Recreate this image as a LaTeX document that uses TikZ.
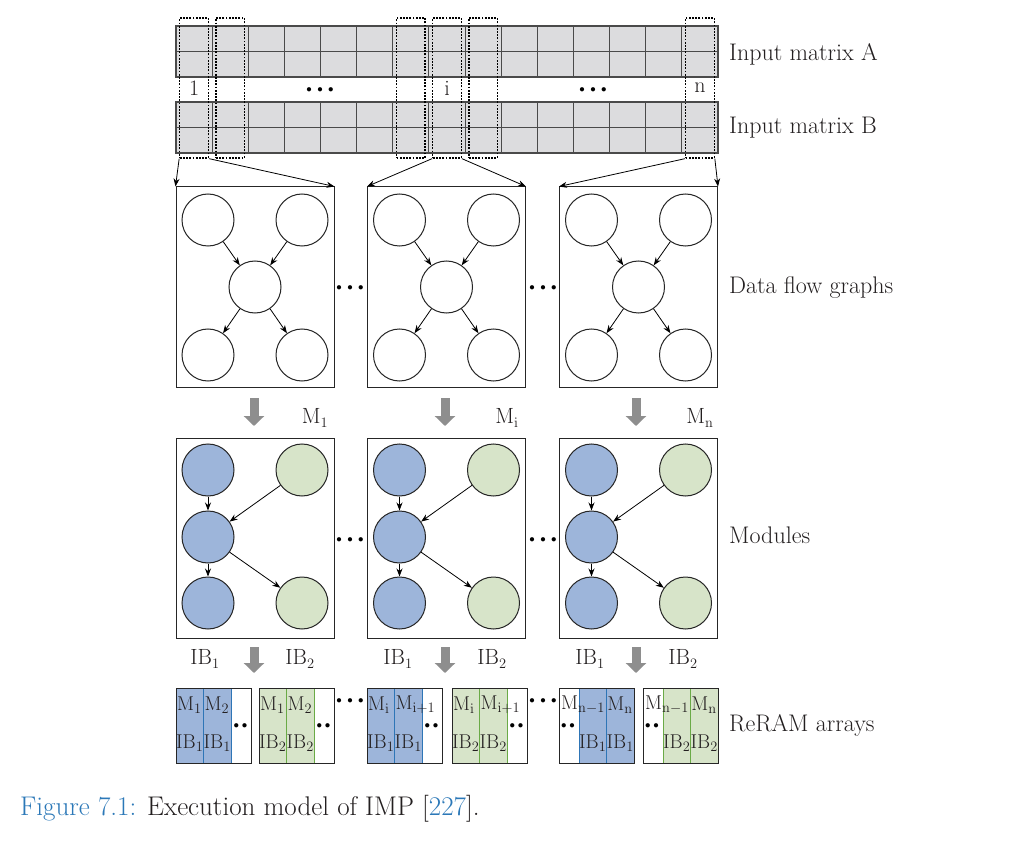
\documentclass[tikz,border=0pt]{standalone}
\usepackage{tikz}
\usetikzlibrary{positioning,arrows.meta}
\definecolor{cellgrey}{HTML}{DCDCDE}
\definecolor{cellline}{HTML}{4A4A4A}
\definecolor{inktext}{HTML}{231F20}
\definecolor{modblue}{HTML}{9DB5DA}
\definecolor{modbluedark}{HTML}{2E75B6}
\definecolor{modgreen}{HTML}{D7E4C9}
\definecolor{modgreendark}{HTML}{6AAA46}
\definecolor{shaftgrey}{HTML}{8E8E8E}
\definecolor{capblue}{HTML}{2B78B8}
\newcommand{\dotsbig}{\fontsize{11}{11}\selectfont$\bullet\kern3pt\bullet\kern3pt\bullet$}
\newcommand{\dotstwo}{\fontsize{11}{11}\selectfont$\bullet\kern3pt\bullet$}
\tikzset{
  lbl/.style      = {font=\fontsize{22}{26}\selectfont, inner sep=0pt, text=inktext},
  sidelbl/.style  = {font=\fontsize{24}{28}\selectfont, inner sep=0pt, text=inktext,
                     anchor=base west},
  select/.style   = {draw=black, line width=1.3pt, dash pattern=on 1.8pt off 1.4pt,
                     minimum width=28.5pt, minimum height=140pt, inner sep=0pt},
  graphbox/.style = {draw=black!85, line width=1pt, minimum width=158pt,
                     minimum height=200pt, inner sep=0pt},
  vertex/.style   = {circle, draw=black!85, line width=1pt, minimum size=52pt,
                     inner sep=0pt, fill=white},
  bluevertex/.style  = {vertex, fill=modblue},
  greenvertex/.style = {vertex, fill=modgreen},
  edge/.style     = {-{Stealth[length=8pt,width=6pt]}, line width=0.8pt},
  feed/.style     = {-{Stealth[length=8pt,width=6pt]}, line width=0.8pt},
  bigarrow/.style = {-{Triangle[length=10pt,width=20pt]}, line width=9pt, draw=shaftgrey},
  array/.style    = {draw=black!85, line width=1pt, minimum width=75pt,
                     minimum height=75pt, inner sep=0pt},
  cell/.style     = {font=\fontsize{20}{22}\selectfont, inner sep=0pt, text=inktext},
  dotrow/.style   = {inner sep=0pt},
}
\begin{document}
\begin{tikzpicture}[x=1pt,y=-1pt]
  \useasboundingbox[fill=white] (0,0) rectangle (1034,845);

  % input matrices A and B
  \foreach \top in {26,102}{
    \fill[cellgrey] (176,\top) rectangle (718,\top+51);
    \foreach \k in {1,...,14}
      \draw[cellline, line width=1.1pt] ({176+\k*36.133},\top) -- ++(0,51);
    \draw[cellline, line width=1.1pt] (176,\top+25.5) -- (718,\top+25.5);
    \draw[cellline, line width=1.1pt] (176,\top) rectangle (718,\top+51);
  }
  \node[sidelbl] (inA) at (729,61) {Input matrix A};
  \node[sidelbl] (inB) at (729,134) {Input matrix B};

  % selected columns
  \foreach \k in {1,2,7,8,9,15}
    \node[select] (sel\k) at ({176+(\k-0.5)*36.133},88) {};
  \node[lbl] (idx1) at (sel1.center) {1};
  \node[lbl] (idxi) at (sel8.center) {i};
  \node[lbl] (idxn) at (sel15.center) {n};
  \node[dotrow] (dotsAB1) at (320,90) {\dotsbig};
  \node[dotrow] (dotsAB2) at (593,90) {\dotsbig};

  % data flow graphs
  \foreach \g/\cx in {1/255,2/446.5,3/638.5}{
    \node[graphbox] (dfg\g) at (\cx,287) {};
    \node[vertex] (dfg\g-tl) at (\cx-47,220) {};
    \node[vertex] (dfg\g-tr) at (\cx+47,220) {};
    \node[vertex] (dfg\g-c)  at (\cx,287) {};
    \node[vertex] (dfg\g-bl) at (\cx-47,355) {};
    \node[vertex] (dfg\g-br) at (\cx+47,355) {};
    \draw[edge] (dfg\g-tl) -- (dfg\g-c);
    \draw[edge] (dfg\g-tr) -- (dfg\g-c);
    \draw[edge] (dfg\g-c) -- (dfg\g-bl);
    \draw[edge] (dfg\g-c) -- (dfg\g-br);
  }
  \node[dotrow] (dotsG1) at (350,288) {\dotsbig};
  \node[dotrow] (dotsG2) at (543,288) {\dotsbig};
  \node[sidelbl] (dfglbl) at (729,294) {Data flow graphs};

  \draw[feed] (sel1.south west)  -- (dfg1.north west);
  \draw[feed] (sel1.south east)  -- (dfg1.north east);
  \draw[feed] (sel8.south west)  -- (dfg2.north west);
  \draw[feed] (sel8.south east)  -- (dfg2.north east);
  \draw[feed] (sel15.south west) -- (dfg3.north west);
  \draw[feed] (sel15.south east) -- (dfg3.north east);

  % mapping to modules
  \foreach \g/\cx in {1/254,2/445,3/636}{
    \coordinate (mapfrom\g) at (\cx,398);
    \coordinate (mapto\g) at (\cx,426);
    \draw[bigarrow] (mapfrom\g) -- (mapto\g);
  }
  \node[lbl] (m1) at (315,418) {M$_1$};
  \node[lbl] (mi) at (507,418) {M$_{\mathrm{i}}$};
  \node[lbl] (mn) at (700,418) {M$_{\mathrm{n}}$};

  % modules
  \foreach \g/\cx in {1/255,2/446.5,3/638.5}{
    \node[graphbox] (mod\g) at (\cx,538) {};
    \node[bluevertex]  (mod\g-tl) at (\cx-47,470) {};
    \node[greenvertex] (mod\g-tr) at (\cx+47,470) {};
    \node[bluevertex]  (mod\g-c)  at (\cx-47,537) {};
    \node[bluevertex]  (mod\g-bl) at (\cx-47,603) {};
    \node[greenvertex] (mod\g-br) at (\cx+47,603) {};
    \draw[edge] (mod\g-tl) -- (mod\g-c);
    \draw[edge] (mod\g-tr) -- (mod\g-c);
    \draw[edge] (mod\g-c) -- (mod\g-bl);
    \draw[edge] (mod\g-c) -- (mod\g-br);
  }
  \node[dotrow] (dotsM1) at (350,540) {\dotsbig};
  \node[dotrow] (dotsM2) at (543,540) {\dotsbig};
  \node[sidelbl] (modlbl) at (729,543) {Modules};

  % placement into ReRAM arrays
  \foreach \g/\cx in {1/254,2/445,3/636}{
    \coordinate (putfrom\g) at (\cx,647);
    \coordinate (putto\g) at (\cx,673);
    \draw[bigarrow] (putfrom\g) -- (putto\g);
  }
  \foreach \g/\lx/\rx in {1/205/300,2/398/492,3/590/683}{
    \node[lbl] (ibA\g) at (\lx,659) {IB$_1$};
    \node[lbl] (ibB\g) at (\rx,659) {IB$_2$};
  }

  % ReRAM arrays
  \foreach \a/\L/\fc/\lc/\wl/\ma/\mb/\ib in {
      1/176/modblue/modbluedark/0/1/2/1,
      2/259/modgreen/modgreendark/0/1/2/2,
      3/367/modblue/modbluedark/0/i/i+1/1,
      4/452/modgreen/modgreendark/0/i/i+1/2,
      5/559/modblue/modbluedark/1/n-1/n/1,
      6/643/modgreen/modgreendark/1/n-1/n/2}{
    \ifnum\wl=0
      \fill[\fc] (\L,688) rectangle (\L+55,763);
      \draw[\lc, line width=1pt] (\L+27.5,688) -- (\L+27.5,763);
      \draw[\lc, line width=1pt] (\L+55,688) -- (\L+55,763);
      \node[cell, anchor=west] (arr\a-ma) at (\L+1,705) {M$_{\mathrm{\ma}}$};
      \node[cell, anchor=west] (arr\a-mb) at (\L+28.5,705) {M$_{\mathrm{\mb}}$};
      \node[cell] (arr\a-ia) at (\L+13.75,743) {IB$_{\ib}$};
      \node[cell] (arr\a-ib) at (\L+41.25,743) {IB$_{\ib}$};
      \node[dotrow] (arr\a-dots) at (\L+64.5,726) {\dotstwo};
    \else
      \fill[\fc] (\L+20,688) rectangle (\L+75,763);
      \draw[\lc, line width=1pt] (\L+20,688) -- (\L+20,763);
      \draw[\lc, line width=1pt] (\L+47.5,688) -- (\L+47.5,763);
      \node[cell, anchor=east] (arr\a-ma) at (\L+46,705) {M$_{\mathrm{\ma}}$};
      \node[cell] (arr\a-mb) at (\L+61,705) {M$_{\mathrm{\mb}}$};
      \node[cell] (arr\a-ia) at (\L+33.75,743) {IB$_{\ib}$};
      \node[cell] (arr\a-ib) at (\L+61.25,743) {IB$_{\ib}$};
      \node[dotrow] (arr\a-dots) at (\L+9,726) {\dotstwo};
    \fi
    \node[array] (arr\a) at (\L+37.5,725.5) {};
  }
  \node[dotrow] (dotsR1) at (350,701) {\dotsbig};
  \node[dotrow] (dotsR2) at (543,701) {\dotsbig};
  \node[sidelbl] (arrlbl) at (729,731) {ReRAM arrays};

  % caption
  \node[sidelbl, font=\fontsize{27}{30}\selectfont] (caption) at (20,815)
       {\textcolor{capblue}{Figure 7.1:} Execution model of IMP [\textcolor{capblue}{227}].};
\end{tikzpicture}
\end{document}
